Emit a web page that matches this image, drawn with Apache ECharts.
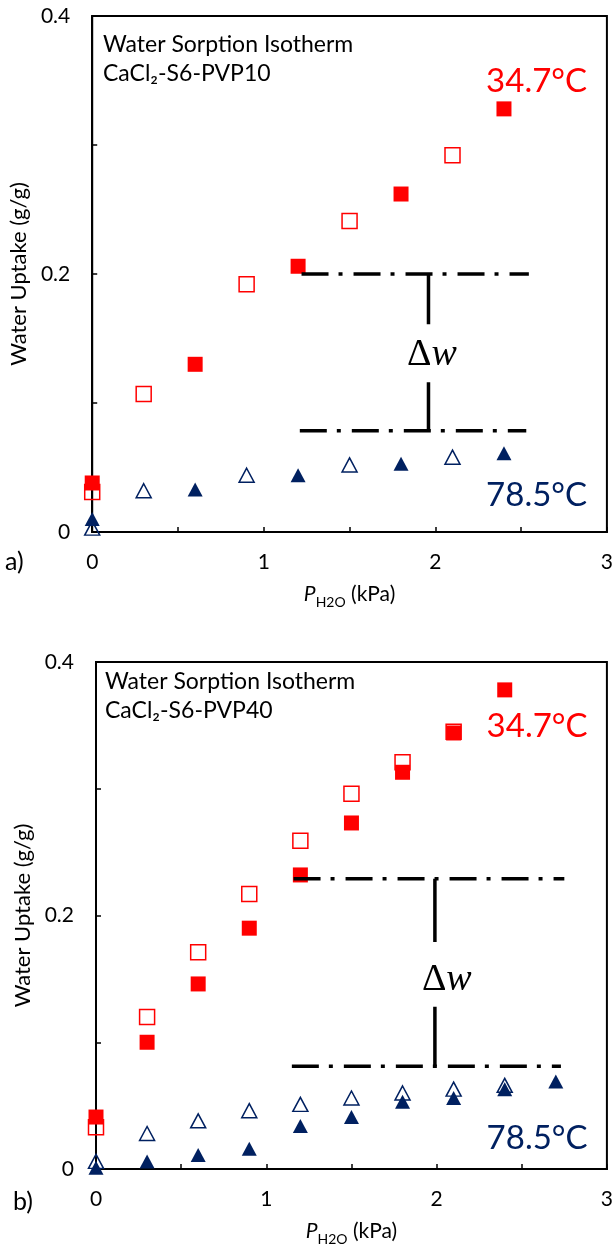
<!DOCTYPE html>
<html>
<head>
<meta charset="utf-8">
<title>Water Sorption Isotherms</title>
<script src="https://cdn.jsdelivr.net/npm/echarts@6/dist/echarts.min.js"></script>
<style>
  html, body { margin: 0; padding: 0; background: #fff; }
  #chart { width: 616px; height: 1247px; }
</style>
</head>
<body>
<div id="chart"></div>
<script>
// ---- Panel a) CaCl2-S6-PVP10 ----
const pA_filled = [0, 0.6, 1.2, 1.8, 2.4];
const pA_open = [0, 0.3, 0.9, 1.5, 2.1];
const wA_low_filled = [0.038, 0.130, 0.206, 0.262, 0.328];   // 34.7 °C, filled squares
const wA_low_open = [0.031, 0.107, 0.192, 0.241, 0.292];     // 34.7 °C, open squares
const wA_high_filled = [0.010, 0.033, 0.044, 0.053, 0.061];  // 78.5 °C, filled triangles
const wA_high_open = [0.003, 0.032, 0.044, 0.052, 0.058];    // 78.5 °C, open triangles

// ---- Panel b) CaCl2-S6-PVP40 ----
const pB_low_filled = [0, 0.3, 0.6, 0.9, 1.2, 1.5, 1.8, 2.1, 2.4];
const pB_low_open = [0, 0.3, 0.6, 0.9, 1.2, 1.5, 1.8, 2.1];
const pB_high_filled = [0, 0.3, 0.6, 0.9, 1.2, 1.5, 1.8, 2.1, 2.4, 2.7];
const pB_high_open = [0, 0.3, 0.6, 0.9, 1.2, 1.5, 1.8, 2.1, 2.4];
const wB_low_filled = [0.041, 0.100, 0.146, 0.190, 0.232, 0.273, 0.313, 0.344, 0.378];
const wB_low_open = [0.033, 0.120, 0.171, 0.217, 0.259, 0.296, 0.321, 0.345];
const wB_high_filled = [0.001, 0.006, 0.011, 0.016, 0.034, 0.041, 0.053, 0.056, 0.063, 0.069];
const wB_high_open = [0.006, 0.028, 0.038, 0.046, 0.051, 0.056, 0.060, 0.063, 0.066];

// uptake levels marking the working capacity Δw in each panel
const dwA = [0.2, 0.0785];
const dwB = [0.229, 0.081];

const xTickLabels = ['0', '1', '2', '3'];
const yTickLabels = ['0', '0.2', '0.4'];

const RED = '#ff0000';
const NAVY = '#002060';
const FONT = 'Lato, "Noto Sans", sans-serif';

function pairs(xs, ys) { return xs.map((x, i) => [x, ys[i]]); }

function xAxisFor(gi) {
  return {
    gridIndex: gi, type: 'value', min: 0, max: 3, interval: 0.5,
    axisLine: { lineStyle: { color: '#000', width: 2 } },
    axisTick: { inside: true, length: 5, lineStyle: { color: '#000', width: 1.5 } },
    splitLine: { show: false },
    axisLabel: {
      color: '#000', fontSize: 21, fontFamily: FONT, margin: 20,
      formatter: v => { const k = Math.round(v * 2); return k % 2 === 0 ? xTickLabels[k / 2] : ''; }
    },
    name: '{i|P}{s|H2O}{n| (kPa)}',
    nameLocation: 'middle', nameGap: 52,
    nameTextStyle: {
      color: '#000', fontFamily: FONT, fontSize: 21,
      rich: {
        i: { fontStyle: 'italic', fontSize: 21, fontFamily: FONT, color: '#000', verticalAlign: 'top', lineHeight: 23 },
        s: { fontSize: 14, fontFamily: FONT, color: '#000', verticalAlign: 'top', lineHeight: 14, padding: [11, 0, 0, 0] },
        n: { fontSize: 21, fontFamily: FONT, color: '#000', verticalAlign: 'top', lineHeight: 23 }
      }
    }
  };
}

function yAxisFor(gi) {
  return {
    gridIndex: gi, type: 'value', min: 0, max: 0.4, interval: 0.1,
    axisLine: { lineStyle: { color: '#000', width: 2 } },
    axisTick: { inside: true, length: 5, lineStyle: { color: '#000', width: 1.5 } },
    splitLine: { show: false },
    axisLabel: {
      color: '#000', fontSize: 21, fontFamily: FONT, margin: 22,
      formatter: v => { const k = Math.round(v * 10); return k % 2 === 0 ? yTickLabels[k / 2] : ''; }
    },
    name: 'Water Uptake (g/g)',
    nameLocation: 'middle', nameGap: 58,
    nameTextStyle: { color: '#000', fontFamily: FONT, fontSize: 22 }
  };
}

function markers(gi, data, symbol, color, filled) {
  return {
    type: 'scatter', xAxisIndex: gi, yAxisIndex: gi, data,
    symbol, symbolSize: symbol === 'rect' ? 15 : [15, 14],
    itemStyle: filled
      ? { color, borderWidth: 0, opacity: 1 }
      : { color: 'transparent', borderColor: color, borderWidth: 1.5, opacity: 1 },
    z: filled ? 4 : 3, silent: true
  };
}

function dashDot(gi, y, x0, x1) {
  return {
    type: 'line', xAxisIndex: gi, yAxisIndex: gi, data: [[x0, y], [x1, y]],
    symbol: 'none', silent: true,
    lineStyle: { color: '#000', width: 3.5, type: [27, 10, 4, 11], cap: 'butt' }, z: 5
  };
}

function vBar(gi, x, y0, y1) {
  return {
    type: 'line', xAxisIndex: gi, yAxisIndex: gi, data: [[x, y0], [x, y1]],
    symbol: 'none', silent: true,
    lineStyle: { color: '#000', width: 3.5, type: 'solid', cap: 'butt' }, z: 5
  };
}

function textAt(gi, x, y, text, style) {
  return {
    type: 'scatter', xAxisIndex: gi, yAxisIndex: gi, data: [[x, y]],
    symbol: 'circle', symbolSize: 0.1, itemStyle: { color: 'transparent', opacity: 1 }, silent: true,
    label: Object.assign({ show: true, position: 'inside', formatter: text, align: 'center', verticalAlign: 'middle', opacity: 1 }, style),
    z: 6
  };
}

const SERIF = '"Liberation Serif", "DejaVu Serif", serif';
const deltaStyle = {
  fontSize: 38, color: '#000',
  rich: {
    d: { fontSize: 38, fontFamily: SERIF, color: '#000' },
    w: { fontSize: 38, fontFamily: SERIF, fontStyle: 'italic', color: '#000' }
  }
};
const tempStyle = (c) => ({ fontSize: 33, fontFamily: FONT, color: c });

const option = {
  backgroundColor: '#fff',
  animation: false,
  title: [
    { text: 'Water Sorption Isotherm\nCaCl₂-S6-PVP10', left: 103, top: 30, padding: 0,
      textStyle: { fontSize: 23, lineHeight: 29, fontWeight: 'normal', fontFamily: FONT, color: '#000' } },
    { text: 'Water Sorption Isotherm\nCaCl₂-S6-PVP40', left: 105, top: 667, padding: 0,
      textStyle: { fontSize: 23, lineHeight: 29, fontWeight: 'normal', fontFamily: FONT, color: '#000' } }
  ],
  graphic: [
    { type: 'text', x: 5, y: 562, style: { text: 'a)', fontSize: 25, fontFamily: FONT, fill: '#000', verticalAlign: 'middle' } },
    { type: 'text', x: 13, y: 1202, style: { text: 'b)', fontSize: 25, fontFamily: FONT, fill: '#000', verticalAlign: 'middle' } }
  ],
  grid: [
    { left: 90, top: 16, width: 518, height: 516, show: true, borderColor: '#000', borderWidth: 2, backgroundColor: 'transparent' },
    { left: 96, top: 662, width: 517, height: 509.5, show: true, borderColor: '#000', borderWidth: 2, backgroundColor: 'transparent' }
  ],
  xAxis: [xAxisFor(0), xAxisFor(1)],
  yAxis: [yAxisFor(0), yAxisFor(1)],
  series: [
    // panel a
    markers(0, pairs(pA_open, wA_low_open), 'rect', RED, false),
    markers(0, pairs(pA_filled, wA_low_filled), 'rect', RED, true),
    markers(0, pairs(pA_open, wA_high_open), 'triangle', NAVY, false),
    markers(0, pairs(pA_filled, wA_high_filled), 'triangle', NAVY, true),
    dashDot(0, dwA[0], 1.22, 2.545),
    dashDot(0, dwA[1], 1.21, 2.53),
    vBar(0, 1.96, dwA[0], 0.161),
    vBar(0, 1.96, 0.116, dwA[1]),
    textAt(0, 1.98, 0.137, '{d|Δ}{w|w}', deltaStyle),
    textAt(0, 2.59, 0.3496, '34.7°C', tempStyle(RED)),
    textAt(0, 2.59, 0.0287, '78.5°C', tempStyle(NAVY)),
    // panel b
    markers(1, pairs(pB_low_open, wB_low_open), 'rect', RED, false),
    markers(1, pairs(pB_low_filled, wB_low_filled), 'rect', RED, true),
    markers(1, pairs(pB_high_open, wB_high_open), 'triangle', NAVY, false),
    markers(1, pairs(pB_high_filled, wB_high_filled), 'triangle', NAVY, true),
    dashDot(1, dwB[0], 1.16, 2.75),
    dashDot(1, dwB[1], 1.15, 2.73),
    vBar(1, 1.99, dwB[0], 0.179),
    vBar(1, 1.99, 0.128, dwB[1]),
    textAt(1, 2.06, 0.149, '{d|Δ}{w|w}', deltaStyle),
    textAt(1, 2.59, 0.3493, '34.7°C', tempStyle(RED)),
    textAt(1, 2.59, 0.024, '78.5°C', tempStyle(NAVY))
  ]
};

const chart = echarts.init(document.getElementById('chart'), null, { renderer: 'canvas' });
chart.setOption(option);
</script>
</body>
</html>
